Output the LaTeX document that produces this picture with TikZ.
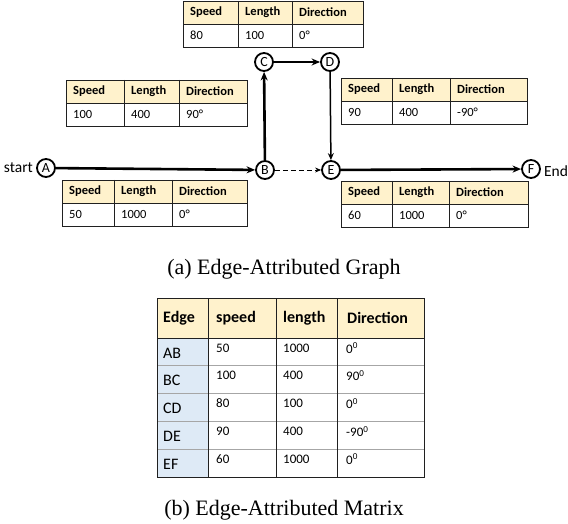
\documentclass[tikz,border=0pt]{standalone}
\usepackage{fontspec}
\setmainfont{Liberation Serif}
\newfontfamily\calf{Carlito}
\usetikzlibrary{arrows.meta}
\definecolor{hdrfill}{HTML}{FFF2CC}
\definecolor{edgefill}{HTML}{DEEAF6}
\definecolor{tabln}{HTML}{202020}
\newcommand\attrtab[9]{%
  \fill[hdrfill] (#2,#6) rectangle (#5,#6+23);
  \draw[tabline] (#2,#6) rectangle (#5,#6+46);
  \draw[tabline] (#2,#6+23) -- (#5,#6+23);
  \draw[tabline] (#3,#6) -- (#3,#6+46);
  \draw[tabline] (#4,#6) -- (#4,#6+46);
  \node[hd] (#1h1) at (#2+7,#6+11.5) {Speed};
  \node[hd] (#1h2) at (#3+7,#6+11.5) {Length};
  \node[hd] (#1h3) at (#4+7,#6+11.5) {Direction};
  \node[cell] (#1v1) at (#2+7,#6+34.5) {#7};
  \node[cell] (#1v2) at (#3+7,#6+34.5) {#8};
  \node[cell] (#1v3) at (#4+7,#6+34.5) {#9};
}
\begin{document}
\begin{tikzpicture}[x=1pt,y=-1pt,
  tabline/.style={draw=tabln,line width=0.9pt},
  hd/.style={anchor=west,inner sep=0pt,font=\calf\bfseries\fontsize{12.5}{12.5}\selectfont},
  cell/.style={anchor=west,inner sep=0pt,font=\calf\fontsize{12.5}{12.5}\selectfont},
  vtx/.style={circle,draw,line width=1.8pt,minimum size=18pt,inner sep=0pt,font=\calf\fontsize{14}{14}\selectfont},
  lbl/.style={inner sep=0pt,font=\calf\fontsize{15.5}{15.5}\selectfont},
  thk/.style={line width=2.6pt,-{Stealth[length=8.5pt,width=7pt]}},
  med/.style={line width=1.5pt,-{Stealth[length=7pt,width=6pt]}},
  dsh/.style={line width=0.8pt,dash pattern=on 5pt off 3pt,-{Stealth[length=6pt,width=5pt]}},
  mhd/.style={anchor=west,inner sep=0pt,font=\calf\bfseries\fontsize{16}{16}\selectfont},
  mlab/.style={anchor=west,inner sep=0pt,font=\calf\fontsize{16}{16}\selectfont},
  mval/.style={anchor=west,inner sep=0pt,font=\calf\fontsize{13}{13}\selectfont},
  captxt/.style={inner sep=0pt,font=\fontsize{22}{22}\selectfont}]
\useasboundingbox (0,0) rectangle (568,524);

% ---- graph ----
\node[vtx] (A) at (46,168) {A};
\node[vtx] (B) at (265,170) {B};
\node[vtx] (C) at (264,62) {C};
\node[vtx] (D) at (330,62) {D};
\node[vtx] (E) at (331,170) {E};
\node[vtx] (F) at (531,169) {F};
\node[lbl,anchor=east] (start) at ([xshift=-3pt]A.west) {start};
\node[lbl,anchor=west] (end) at ([xshift=3pt,yshift=-2pt]F.east) {End};

\draw[thk] (A) -- (B);
\draw[thk] (B) -- (C);
\draw[thk] (C) -- (D);
\draw[med] (D) -- (E);
\draw[dsh] (B) -- (E);
\draw[thk] (E) -- (F);

\attrtab{cd}{183}{238}{292}{363}{1}{80}{100}{0°}
\attrtab{bc}{66}{124}{179}{247}{80}{100}{400}{90°}
\attrtab{de}{341}{392}{450}{527}{78}{90}{400}{-90°}
\attrtab{ab}{62}{114}{172}{247}{180}{50}{1000}{0°}
\attrtab{ef}{341}{392}{449}{528}{181}{60}{1000}{0°}

\node[captxt] (capa) at (284,269) {(a) Edge-Attributed Graph};

% ---- matrix ----
\fill[hdrfill] (157,298) rectangle (424,338);
\foreach \i in {1,...,5} {
  \fill[edgefill] (157,{338+(\i-1)*27.8}) rectangle (208,{338+\i*27.8});
}
\foreach \i in {1,...,4} {
  \draw[draw=gray!70,line width=0.9pt] (157,{338+\i*27.8}) -- (424,{338+\i*27.8});
}
\draw[tabline] (157,338) -- (424,338);
\draw[tabline] (208,298) -- (208,477);
\draw[tabline] (276,298) -- (276,477);
\draw[tabline] (337,298) -- (337,477);
\draw[tabline,line width=1pt] (157,298) rectangle (424,477);

\node[mhd] (mh1) at (163,318) {Edge};
\node[mhd] (mh2) at (216,318) {speed};
\node[mhd] (mh3) at (283,318) {length};
\node[mhd] (mh4) at (347,318) {Direction};
\foreach \e/\s/\l/\d [count=\i] in {AB/50/1000/0\textsuperscript{0},BC/100/400/90\textsuperscript{0},CD/80/100/0\textsuperscript{0},DE/90/400/-90\textsuperscript{0},EF/60/1000/0\textsuperscript{0}} {
  \node[mlab] (m\e) at (163,{338+(\i-1)*27.8+15}) {\e};
  \node[mval] (ms\e) at (216,{338+(\i-1)*27.8+10}) {\s};
  \node[mval] (ml\e) at (283,{338+(\i-1)*27.8+10}) {\l};
  \node[mval] (md\e) at (346,{338+(\i-1)*27.8+10}) {\d};
}

\node[captxt] (capb) at (284,510) {(b) Edge-Attributed Matrix};
\end{tikzpicture}
\end{document}
